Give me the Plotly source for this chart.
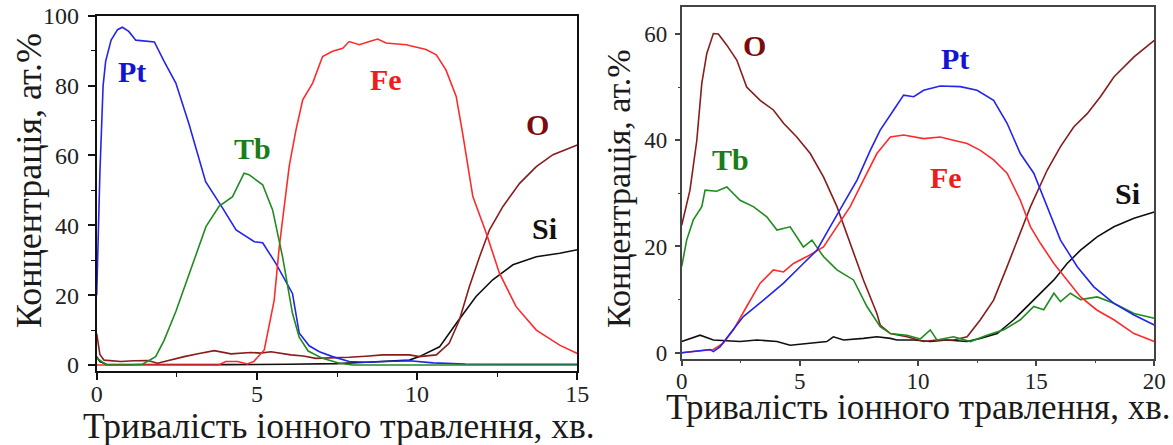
import plotly.graph_objects as go

# ---------------- Left panel data (x: minutes 0..15) ----------------
L_pt_x = [0, 0.1, 0.2, 0.28, 0.45, 0.65, 0.8, 1.0, 1.22, 1.5, 1.8, 2.1, 2.47, 2.88, 3.4, 3.93, 4.35,
          4.92, 5.18, 5.59, 6.11, 6.32, 6.63, 6.95, 7.36, 7.88, 8.4, 9.0, 9.76, 10.5, 11.5, 13, 15]
L_pt_y = [20, 55, 80, 87, 93, 96, 96.7, 95.5, 93, 92.8, 92.5, 87, 80.7, 69, 52.5, 44.9, 38.7,
          35.3, 35, 29.1, 20.5, 9.2, 5.5, 3.8, 2.4, 1.0, 0.8, 1.0, 1.2, 0.6, 0.3, 0.2, 0.2]

L_tb_x = [0, 0.3, 1.0, 1.43, 1.84, 2.1, 2.47, 2.99, 3.41, 3.82, 4.24, 4.6, 4.75, 5.18, 5.49, 5.8,
          6.11, 6.32, 6.6, 7.05, 7.57, 8.0, 15]
L_tb_y = [2, 0, 0, 0.2, 2.4, 7, 15.3, 29.1, 39.6, 45.4, 48.2, 54.9, 54.5, 51.6, 44.4, 31,
          14.8, 8, 4, 1.9, 0.5, 0, 0]

L_fe_x = [0, 1.5, 3.8, 4.03, 4.4, 4.7, 4.9, 5.23, 5.54, 5.7, 5.85, 6.01, 6.22, 6.43, 6.74, 7.05,
          7.36, 7.68, 7.88, 8.2, 8.51, 8.77, 9.03, 9.66, 10.28, 10.6, 10.9, 11.22, 11.42, 11.74,
          12.16, 12.57, 13.09, 13.72, 14.45, 15]
L_fe_y = [0, 0, 0, 1, 1, 0.3, 1, 4.3, 18.6, 34, 45, 57, 67.3, 75.9, 80.7, 88.3,
          89.8, 90.7, 92.6, 91.7, 92.6, 93.3, 92.2, 91.7, 90.3, 88.8, 84.5, 76.9, 66.4, 48.2,
          37.7, 26.3, 16.7, 10, 5.7, 3.3]

L_o_x = [0, 0.1, 0.23, 0.5, 0.75, 1.17, 1.6, 1.9, 2.3, 2.73, 3.2, 3.67, 4.19, 4.5, 4.81, 5.1,
         5.44, 6.06, 6.45, 6.84, 7.3, 7.88, 8.4, 8.93, 9.76, 10.07, 10.6, 11.0, 11.32, 11.63,
         11.95, 12.26, 12.68, 13.2, 13.72, 14.24, 15]
L_o_y = [9, 3, 1.4, 1.1, 1, 1.2, 1.3, 0.5, 1.5, 2.4, 3.3, 4.1, 3.2, 3.4, 3.6, 3.4,
         3.8, 2.9, 2.6, 1.9, 2.0, 2.2, 2.5, 2.9, 2.9, 2.4, 2.9, 6.2, 12.9, 22.4,
         31, 38.7, 45.4, 52, 56.8, 60.2, 63]

L_si_x = [0, 0.1, 0.3, 2, 4, 6, 7.5, 8.4, 9.0, 9.76, 10.07, 10.7, 11.22, 11.84, 12.36, 12.99,
          13.72, 14.45, 15]
L_si_y = [2.4, 1.0, 0.2, 0.1, 0.1, 0.2, 0.4, 0.8, 1.0, 1.4, 2.4, 5.2, 11.9, 19.6, 24.4, 28.7,
          31, 32, 33]

# ---------------- Right panel data (x: minutes 0..20) ----------------
R_o_x = [0, 0.35, 0.64, 0.85, 1.06, 1.34, 1.55, 1.91, 2.33, 2.75, 3.32, 3.88, 4.31, 4.87, 5.44,
         6.0, 6.57, 7.13, 7.69, 8.26, 8.4, 8.83, 9.53, 10.24, 10.8, 11.5, 12.08, 12.64, 13.2,
         13.77, 14.33, 14.76, 15.47, 16.03, 16.59, 17.16, 17.72, 18.29, 19.14, 20]
R_o_y = [24, 30.6, 40, 50.7, 56.3, 60.1, 60, 57.9, 55.1, 50, 47.5, 45.7, 43.2, 40.6, 37.5,
         33.1, 27.5, 20.6, 13.7, 7.4, 5.2, 3.6, 3, 2.1, 2.4, 2.4, 3, 6.2, 9.9,
         16.2, 22.5, 27.5, 34.4, 38.8, 42.5, 45, 48.2, 51.9, 55.7, 58.8]

R_tb_x = [0, 0.21, 0.49, 0.85, 0.99, 1.48, 1.91, 2.47, 3.03, 3.6, 4.03, 4.59, 5.15, 5.51, 6.0,
          6.57, 7.27, 7.84, 8.4, 8.83, 9.53, 10.1, 10.52, 10.8, 11.5, 12.22, 12.92, 13.63, 14.33,
          14.9, 15.32, 15.75, 16.03, 16.45, 16.88, 17.58, 18.29, 19.14, 20]
R_tb_y = [16.2, 21.2, 25, 27.5, 30.6, 30.4, 31.2, 28.7, 27.5, 25.6, 23.1, 23.7, 19.9, 21.2, 18.1,
          15.6, 13.7, 8.7, 4.9, 3.6, 3.3, 2.6, 4.3, 2.4, 3, 2.1, 3.3, 4.3, 6.2,
          8.7, 8.1, 11.2, 9.6, 11.2, 10, 10.5, 9.3, 7.4, 6.5]

R_fe_x = [0, 0.6, 1.34, 1.76, 2.19, 2.75, 3.32, 3.88, 4.31, 4.73, 5.3, 6.0, 6.57, 7.13, 7.69,
          8.26, 8.83, 9.39, 10.24, 10.94, 11.5, 12.08, 12.64, 13.2, 13.77, 14.33, 14.76, 15.18,
          15.75, 16.31, 16.88, 17.58, 18.29, 19.14, 20]
R_fe_y = [0, 0.3, 0.6, 1.8, 4.3, 8.7, 13.1, 15.6, 15.2, 16.8, 18.1, 19.9, 23.7, 27.5, 32.5,
          37.5, 40.6, 41, 40.3, 40.6, 40, 39.4, 38.1, 36.3, 33.8, 28.7, 23.7, 20.6,
          16.8, 13.7, 10.5, 8, 6.2, 3.6, 2.1]

R_pt_x = [0, 0.6, 1.2, 1.34, 1.62, 2.05, 2.61, 3.46, 4.31, 5.15, 5.72, 6.28, 6.85, 7.42, 7.98,
          8.4, 8.97, 9.39, 9.82, 10.24, 10.94, 11.79, 12.5, 13.2, 13.77, 14.33, 14.9, 15.47,
          16.03, 16.74, 17.44, 18.29, 19.14, 20]
R_pt_y = [0, 0.3, 0.6, 0.2, 1.1, 3.6, 6.8, 9.9, 13.1, 16.8, 19.3, 23.7, 28.1, 32.5, 38.1,
          41.9, 45.7, 48.5, 48.2, 49.4, 50.2, 50.1, 49.4, 47.5, 43.2, 37.5, 33.8, 27.5,
          21.2, 16.2, 12.4, 9.3, 7.1, 5.2]

R_si_x = [0, 0.78, 1.34, 2.47, 3.18, 4.03, 4.59, 5.44, 6.14, 6.42, 6.85, 7.69, 8.26, 8.83, 9.11,
          9.82, 10.52, 11.22, 12.08, 12.64, 13.35, 14.05, 14.62, 15.18, 15.75, 16.31, 16.88,
          17.58, 18.29, 19.14, 20]
R_si_y = [2.1, 3.3, 2.4, 2.1, 2.4, 2.1, 1.4, 1.8, 2.1, 3.0, 2.4, 2.7, 3.0, 2.7, 2.4,
          2.4, 2.1, 2.4, 2.1, 2.7, 3.6, 6.2, 8.7, 11.2, 13.7, 16.8, 19.3,
          21.8, 23.7, 25.3, 26.5]

# ---------------- Labels ----------------
L_labels = ["Pt", "Tb", "Fe", "O", "Si"]
L_label_x = [1.1, 4.86, 9.03, 13.77, 13.98]
L_label_y = [84, 62, 81.7, 68.8, 39]
R_labels = ["O", "Tb", "Pt", "Fe", "Si"]
R_label_x = [3.1, 2.05, 11.58, 11.2, 18.85]
R_label_y = [57.9, 36.3, 55.4, 32.9, 30]

x_title = "Тривалість іонного травлення, хв."
y_title = "Концентрація, ат.%"

C = {"Pt": "#2424ee", "Tb": "#1e8c1e", "Fe": "#ff2b2b", "O": "#8a1c1c", "Si": "#101010"}
LC = {"Pt": "#1414d2", "Tb": "#1a7d1a", "Fe": "#ee1c1c", "O": "#7a0c0c", "Si": "#111111"}
SERIF = "Liberation Serif"

fig = go.Figure()

def add(x, y, name, xa, ya):
    fig.add_trace(go.Scatter(x=x, y=y, mode="lines", name=name, xaxis=xa, yaxis=ya,
                             line=dict(color=C[name], width=1.6), showlegend=False,
                             hoverinfo="skip"))

add(L_si_x, L_si_y, "Si", "x", "y")
add(L_o_x, L_o_y, "O", "x", "y")
add(L_pt_x, L_pt_y, "Pt", "x", "y")
add(L_fe_x, L_fe_y, "Fe", "x", "y")
add(L_tb_x, L_tb_y, "Tb", "x", "y")

add(R_si_x, R_si_y, "Si", "x2", "y2")
add(R_o_x, R_o_y, "O", "x2", "y2")
add(R_tb_x, R_tb_y, "Tb", "x2", "y2")
add(R_fe_x, R_fe_y, "Fe", "x2", "y2")
add(R_pt_x, R_pt_y, "Pt", "x2", "y2")

W, H = 1173, 445

def fx(px):
    return min(1.0, max(0.0, px / W))

def fy(py):
    return min(1.0, max(0.0, 1 - py / H))

def axis(domain, rng, dtick, minor, linecolor, lw, anchor, tl, fs, standoff):
    return dict(domain=domain, range=rng, dtick=dtick, tick0=0, showgrid=False, zeroline=False,
                showline=True, mirror=True, linecolor=linecolor, linewidth=lw,
                ticks="outside", ticklen=tl, tickwidth=1.5, tickcolor=linecolor,
                minor=dict(dtick=minor, ticks="outside", ticklen=tl - 3, tickwidth=1.2,
                           tickcolor=linecolor),
                tickfont=dict(family=SERIF, size=fs, color="#222"),
                ticklabelstandoff=standoff, ticklabeloverflow="allow",
                anchor=anchor, automargin=False)

fig.update_layout(
    width=W, height=H, margin=dict(l=0, r=0, t=0, b=0),
    paper_bgcolor="white", plot_bgcolor="white",
    xaxis=axis([fx(96.7), fx(577.3)], [0, 15], 5, 2.5, "#111", 2, "y", 7, 24, -7),
    yaxis=axis([fy(370.7), fy(15.7)], [-1.63, 100], 20, 10, "#111", 2, "x", 7, 24, 4),
    xaxis2=axis([fx(681.7), fx(1154.3)], [0, 20], 5, 2.5, "#444", 1.5, "y2", 5, 23, -5),
    yaxis2=axis([fy(359.3), fy(7.3)], [-1.24, 65.03], 20, 10, "#444", 1.5, "x2", 5, 23, 3),
)

ann = []
for t, xv, yv in zip(L_labels, L_label_x, L_label_y):
    ann.append(dict(x=xv, y=yv, xref="x", yref="y", text="<b>%s</b>" % t, showarrow=False,
                    font=dict(family=SERIF, size=30, color=LC[t])))
for t, xv, yv in zip(R_labels, R_label_x, R_label_y):
    ann.append(dict(x=xv, y=yv, xref="x2", yref="y2", text="<b>%s</b>" % t, showarrow=False,
                    font=dict(family=SERIF, size=30, color=LC[t])))

ann.append(dict(x=fx(339), y=fy(426), xref="paper", yref="paper", text=x_title,
                showarrow=False, font=dict(family=SERIF, size=35.5, color="#1a1a1a"),
                xanchor="center", yanchor="middle"))
ann.append(dict(x=fx(918), y=fy(407), xref="paper", yref="paper", text=x_title,
                showarrow=False, font=dict(family=SERIF, size=35, color="#1a1a1a"),
                xanchor="center", yanchor="middle"))
ann.append(dict(x=fx(29), y=fy(181), xref="paper", yref="paper", text=y_title,
                showarrow=False, font=dict(family=SERIF, size=36, color="#1a1a1a"),
                textangle=-90, xanchor="center", yanchor="middle"))
ann.append(dict(x=fx(618), y=fy(189), xref="paper", yref="paper", text=y_title,
                showarrow=False, font=dict(family=SERIF, size=34, color="#1a1a1a"),
                textangle=-90, xanchor="center", yanchor="middle"))
fig.update_layout(annotations=ann, hovermode=False)

# remove the browser's default 8px body margin so the figure fills the window exactly
fig.write_html("out.html", config={"displayModeBar": False},
               post_script="document.body.style.margin='0px';")
